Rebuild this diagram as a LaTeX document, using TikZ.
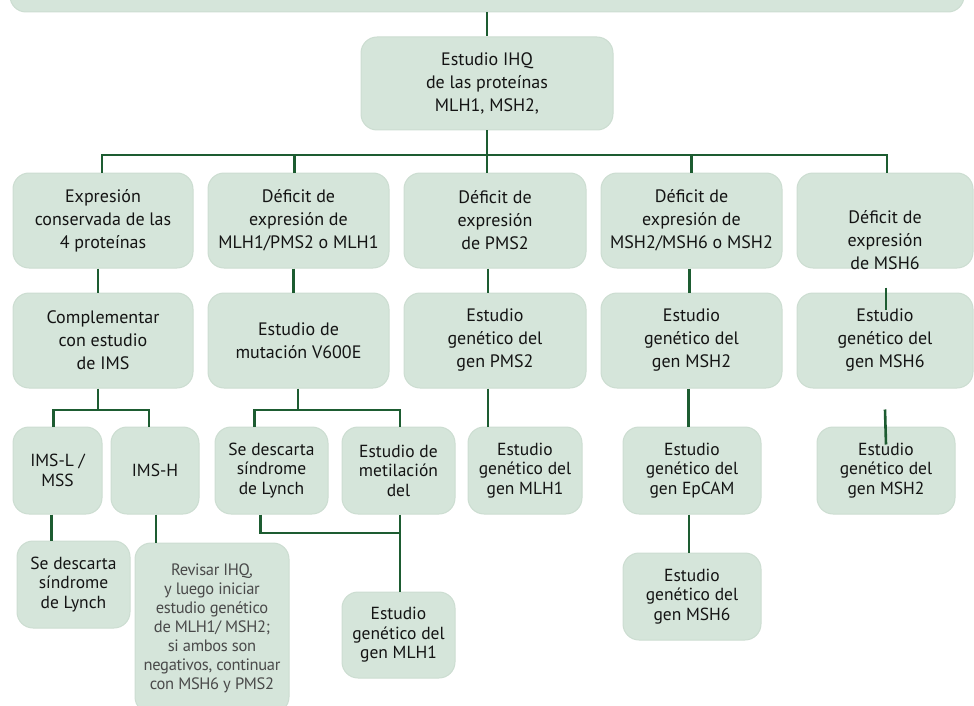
\documentclass[tikz,border=0pt]{standalone}
\usepackage{fontspec}
\setmainfont{PT Sans}
\definecolor{boxfill}{HTML}{D5E5DA}
\definecolor{boxedge}{HTML}{CCDDD1}
\definecolor{linegreen}{HTML}{1D5C31}
\definecolor{txt}{HTML}{141414}
\definecolor{graytxt}{HTML}{4A4A4A}
\tikzset{
  gbox/.style={rounded corners=16pt, fill=boxfill, draw=boxedge, line width=1pt,
    align=center, inner sep=0pt, text=txt,
    font=\fontsize{18}{23}\selectfont},
  gboxs/.style={gbox, font=\fontsize{17.5}{19.5}\selectfont},
  gline/.style={draw=linegreen, line width=2.6pt},
}
\begin{document}
\begin{tikzpicture}[x=1pt,y=-1pt]
\useasboundingbox (0,0) rectangle (974,706);
% top bar
\node[gbox, minimum width=954pt, minimum height=44pt] (top) at (487,-10) {};
\node[gbox, minimum width=252pt, minimum height=93pt] (ihq) at (487,83.5) {Estudio IHQ\\de las proteínas\\MLH1, MSH2,};
% row 1
\node[gbox, minimum width=180pt, minimum height=95pt] (r1a) at (103,220.5) {Expresión\\conservada de las\\4 proteínas};
\node[gbox, minimum width=181pt, minimum height=95pt] (r1b) at (298.5,220.5) {Déficit de\\expresión de\\MLH1/PMS2 o MLH1};
\node[gbox, minimum width=182pt, minimum height=95pt] (r1c) at (495,220.5) {Déficit de\\expresión\\de PMS2};
\node[gbox, minimum width=181pt, minimum height=95pt] (r1d) at (691.5,220.5) {Déficit de\\expresión de\\MSH2/MSH6 o MSH2};
\node[gbox, minimum width=176pt, minimum height=95pt] (r1e) at (885,220.5) {\raisebox{-26pt}[0pt][0pt]{\begin{tabular}{@{}c@{}}Déficit de\\expresión\\de MSH6\end{tabular}}};
% row 2
\node[gbox, minimum width=180pt, minimum height=95pt] (r2a) at (103,340.5) {Complementar\\con estudio\\de IMS};
\node[gbox, minimum width=181pt, minimum height=95pt] (r2b) at (298.5,340.5) {Estudio de\\mutación V600E};
\node[gbox, minimum width=182pt, minimum height=95pt] (r2c) at (495,340.5) {Estudio\\genético del\\gen PMS2};
\node[gbox, minimum width=181pt, minimum height=95pt] (r2d) at (691.5,340.5) {Estudio\\genético del\\gen MSH2};
\node[gbox, minimum width=176pt, minimum height=95pt] (r2e) at (885,340.5) {Estudio\\genético del\\gen MSH6};
% row 3
\node[gboxs, minimum width=89pt, minimum height=87pt] (imsl) at (57.5,470.5) {IMS-L /\\MSS};
\node[gboxs, minimum width=88pt, minimum height=87pt] (imsh) at (155,470.5) {IMS-H};
\node[gboxs, minimum width=113pt, minimum height=87pt] (desc2) at (271.5,470.5) {Se descarta\\síndrome\\de Lynch};
\node[gboxs, minimum width=113pt, minimum height=87pt] (metil) at (398.5,470.5) {Estudio de\\metilación\\del};
\node[gboxs, minimum width=114pt, minimum height=87pt] (mlh1b) at (525,470.5) {Estudio\\genético del\\gen MLH1};
\node[gboxs, minimum width=138pt, minimum height=87pt] (epcam) at (692,470.5) {Estudio\\genético del\\gen EpCAM};
\node[gboxs, minimum width=138pt, minimum height=87pt] (msh2b) at (886,470.5) {Estudio\\genético del\\gen MSH2};
% row 4
\node[gboxs, minimum width=113pt, minimum height=87pt] (desc1) at (73.5,584.5) {Se descarta\\síndrome\\de Lynch};
\node[gbox, minimum width=154pt, minimum height=170pt, text=graytxt,
  font=\fontsize{16.5}{19}\selectfont\addfontfeatures{LetterSpace=-2}] (rev) at (212,628) {Revisar IHQ,\\y luego iniciar\\estudio genético\\de MLH1/ MSH2;\\si ambos son\\negativos, continuar\\con MSH6 y PMS2};
\node[gboxs, minimum width=113pt, minimum height=86pt] (mlh1c) at (398.5,635) {Estudio\\genético del\\gen MLH1};
\node[gboxs, minimum width=138pt, minimum height=87pt] (msh6c) at (692,596.5) {Estudio\\genético del\\gen MSH6};
% connectors
\coordinate (bus1) at (487,155);
\coordinate (busA) at (98,410);
\coordinate (busB) at (298,410);
\coordinate (busC) at (400,533);
\draw[gline] (top.south) -- (ihq.north);
\draw[gline] (ihq.south) -- (bus1);
\draw[gline] ([xshift=-1pt]r1a.north) |- (bus1) -| ([xshift=2pt]r1e.north);
\draw[gline] ([xshift=-4pt]r1b.north) -- ([xshift=-4pt]r1b.north |- bus1);
\draw[gline] ([xshift=-8pt]r1c.north) -- ([xshift=-8pt]r1c.north |- bus1);
\draw[gline] (r1d.north) -- (r1d.north |- bus1);
\draw[gline] ([xshift=-5pt]r1a.south) coordinate (t1) -- (t1 |- r2a.north);
\draw[gline] ([xshift=-5pt]r1b.south) coordinate (t2) -- (t2 |- r2b.north);
\draw[gline] ([xshift=-7pt]r1c.south) coordinate (t3) -- (t3 |- r2c.north);
\draw[gline] ([xshift=-2pt]r1d.south) coordinate (t4) -- (t4 |- r2d.north);
\draw[gline] ([xshift=1pt,yshift=-19pt]r1e.south) -- ([xshift=1pt,yshift=-17pt]r2e.north);
% column 1
\draw[gline] (r2a.south -| busA) -- (busA);
\draw[gline] ([xshift=-4pt]imsl.north) |- (busA) -| ([xshift=-6pt]imsh.north);
\draw[gline] ([xshift=-6pt]imsl.south) coordinate (t6) -- (t6 |- desc1.north);
\draw[gline] ([xshift=1pt]imsh.south) coordinate (t7) -- (t7 |- rev.north);
% column 2
\draw[gline] (r2b.south -| busB) -- (busB);
\draw[gline] ([xshift=-17pt]desc2.north) |- (busB) -| ([xshift=1.5pt]metil.north);
\draw[gline] ([xshift=-11pt]desc2.south) |- (busC);
\draw[gline] ([xshift=1.5pt]metil.south) -- ([xshift=1.5pt]mlh1c.north);
% column 3
\draw[gline] ([xshift=-7pt]r2c.south) coordinate (t8) -- (t8 |- mlh1b.north);
% column 4
\draw[gline] ([xshift=-3pt]r2d.south) coordinate (t9) -- (t9 |- epcam.north);
\draw[gline] ([xshift=-3pt]epcam.south) -- ([xshift=-3pt]msh6c.north);
% column 5
\draw[gline] ([yshift=-21pt]r2e.south) -- ([yshift=-18pt]msh2b.north);
\end{tikzpicture}
\end{document}
